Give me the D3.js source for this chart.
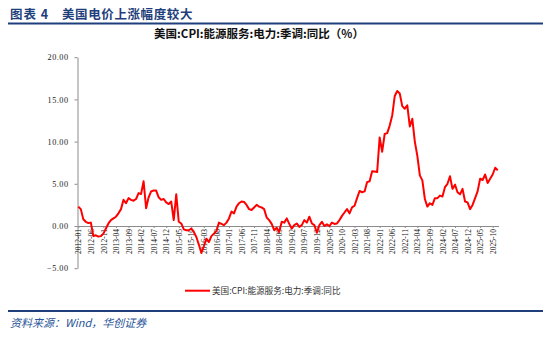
<!DOCTYPE html>
<html><head><meta charset="utf-8">
<script src="https://cdn.jsdelivr.net/npm/d3@7"></script>
<style>
html,body{margin:0;padding:0;background:#fff;}
svg{display:block;}
</style></head>
<body><svg id="c" width="550" height="338"></svg>
<script>
// ---- data ----
const startYear = 2012, startMonth = 1;
const values = [
  2.3, 2.0, 0.8, 0.5, 0.35, 0.4, -1.2, -1.1, -1.25, -1.2,
  -0.9, -0.3, 0.3, 0.7, 0.9, 1.1, 1.5, 2.0, 3.1, 2.7,
  3.3, 3.1, 3.0, 3.2, 3.9, 3.8, 5.3, 2.1, 3.4, 4.1,
  4.2, 4.2, 3.4, 3.1, 3.2, 2.8, 2.6, 2.9, 0.7, 3.75,
  0.5, 0.3, -0.4, -0.5, -0.5, -0.3, -0.7, -1.3, -2.2, -3.2,
  -2.4, -1.5, -1.9, -1.2, -0.9, -0.6, 0.4, 0.25, 0.1, 0.4,
  0.9, 1.7, 1.5, 2.3, 2.7, 2.9, 2.85, 2.5, 2.0, 1.9,
  2.2, 2.5, 2.3, 2.2, 2.0, 1.0, 0.7, 0.25, -0.5, -0.2,
  -0.7, 0.5, 0.4, 0.9, 0.25, -0.3, 0.1, 0.3, -0.1, 0.1,
  0.7, 0.4, 1.1, 0.3, 0.1, -0.8, 0.1, 0.5, 0.0, 0.2,
  0.0, 0.4, 0.25, 0.3, 0.7, 1.2, 1.6, 2.0, 1.5, 2.2,
  2.4, 3.3, 4.15, 4.0, 4.1, 5.2, 5.3, 6.5, 6.45, 6.4,
  10.5, 8.8, 10.9, 11.0, 11.9, 13.1, 15.4, 16.0, 15.7, 14.2,
  13.9, 14.3, 11.8, 12.7, 10.0, 8.3, 6.0, 5.4, 3.2, 2.3,
  2.7, 2.5, 3.3, 3.3, 3.6, 3.5, 4.6, 5.0, 5.9, 4.4,
  4.9, 4.0, 3.75, 4.4, 2.9, 2.8, 2.0, 2.5, 3.3, 4.1,
  5.6, 5.45, 6.1, 5.1, 5.6, 6.1, 6.9, 6.6
];
const months = values.map((v, i) => {
  const t = startMonth - 1 + i;
  const y = startYear + Math.floor(t / 12), m = (t % 12) + 1;
  return y + "-" + (m < 10 ? "0" + m : m);
});
const yTicks = [-5, 0, 5, 10, 15, 20];
const xTickLabels = months.filter((d, i) => i % 5 === 0);
const seriesName = "美国:CPI:能源服务:电力:季调:同比";
const chartTitle = "美国:CPI:能源服务:电力:季调:同比（%）";
const figLabel = "图表 4";
const figTitle = "美国电价上涨幅度较大";
const sourceText = "资料来源：Wind，华创证券";

// ---- drawing ----
const svg = d3.select("#c");
const navy = "#1f3f7c";
const serif = "'Liberation Serif','Times New Roman','Noto Sans CJK SC',serif";

svg.append("text").attr("x", 10).attr("y", 18.5)
  .attr("font-family", "'Noto Sans CJK SC',sans-serif").attr("font-weight", "bold")
  .attr("font-size", 12.5).attr("letter-spacing", 1.0).attr("fill", navy).text(figLabel);
svg.append("text").attr("x", 62).attr("y", 18.5)
  .attr("font-family", "'Noto Sans CJK SC',sans-serif").attr("font-weight", "bold")
  .attr("font-size", 12.5).attr("letter-spacing", 0.6).attr("fill", navy).text(figTitle);
svg.append("line").attr("x1", 8).attr("x2", 543).attr("y1", 23.5).attr("y2", 23.5)
  .attr("stroke", navy).attr("stroke-width", 2);

svg.append("text").attr("x", 259).attr("y", 37.5).attr("text-anchor", "middle")
  .attr("font-family", "'Noto Sans CJK SC',sans-serif").attr("font-weight", "bold")
  .attr("font-size", 11.5).attr("fill", "#111").text(chartTitle);

const x = d3.scalePoint().domain(months).range([78.3, 497.7]);
const y = d3.scaleLinear().domain([-5, 20]).range([268.2, 57.2]);

// y axis
const gy = svg.append("g").attr("transform", "translate(77.5,0)")
  .call(d3.axisLeft(y).tickValues(yTicks).tickFormat(d3.format(".2f")).tickSize(3).tickSizeOuter(0));
gy.select(".domain").attr("stroke", "#8c8c8c");
gy.selectAll(".tick line").attr("stroke", "#8c8c8c");
gy.selectAll(".tick text").attr("font-family", serif).attr("font-size", 8.2)
  .attr("letter-spacing", 0.5).attr("fill", "#222").attr("x", -9);

// x axis at zero
const gx = svg.append("g").attr("transform", `translate(0,${y(0)})`)
  .call(d3.axisBottom(x).tickValues(xTickLabels).tickSize(2).tickSizeOuter(0));
gx.select(".domain").attr("d", "M77.5,0.5H499").attr("stroke", "#8c8c8c");
gx.selectAll(".tick line").attr("stroke", "#8c8c8c");
gx.selectAll(".tick text").attr("font-family", serif).attr("font-size", 7.5)
  .attr("fill", "#111").attr("text-anchor", "end")
  .attr("transform", "rotate(-90)").attr("x", -3).attr("y", 0).attr("dy", "0.35em");

// line
const line = d3.line().x((d, i) => x(months[i])).y(d => y(d));
svg.append("path").datum(values).attr("d", line).attr("fill", "none")
  .attr("stroke", "#ff0000").attr("stroke-width", 2).attr("stroke-linejoin", "round");

// legend
svg.append("line").attr("x1", 185).attr("x2", 210).attr("y1", 290.7).attr("y2", 290.7)
  .attr("stroke", "#ff0000").attr("stroke-width", 2);
svg.append("text").attr("x", 212).attr("y", 294).attr("font-family", "'Noto Sans CJK SC',sans-serif")
  .attr("font-size", 8.6).attr("fill", "#333").text(seriesName);

// bottom rule + source
svg.append("line").attr("x1", 8).attr("x2", 543).attr("y1", 311).attr("y2", 311)
  .attr("stroke", navy).attr("stroke-width", 2);
svg.append("text").attr("x", 10).attr("y", 326.5)
  .attr("font-family", "'Noto Sans CJK SC',serif").attr("font-style", "italic")
  .attr("font-size", 11).attr("fill", "#2a5599").text(sourceText);
</script></body></html>
